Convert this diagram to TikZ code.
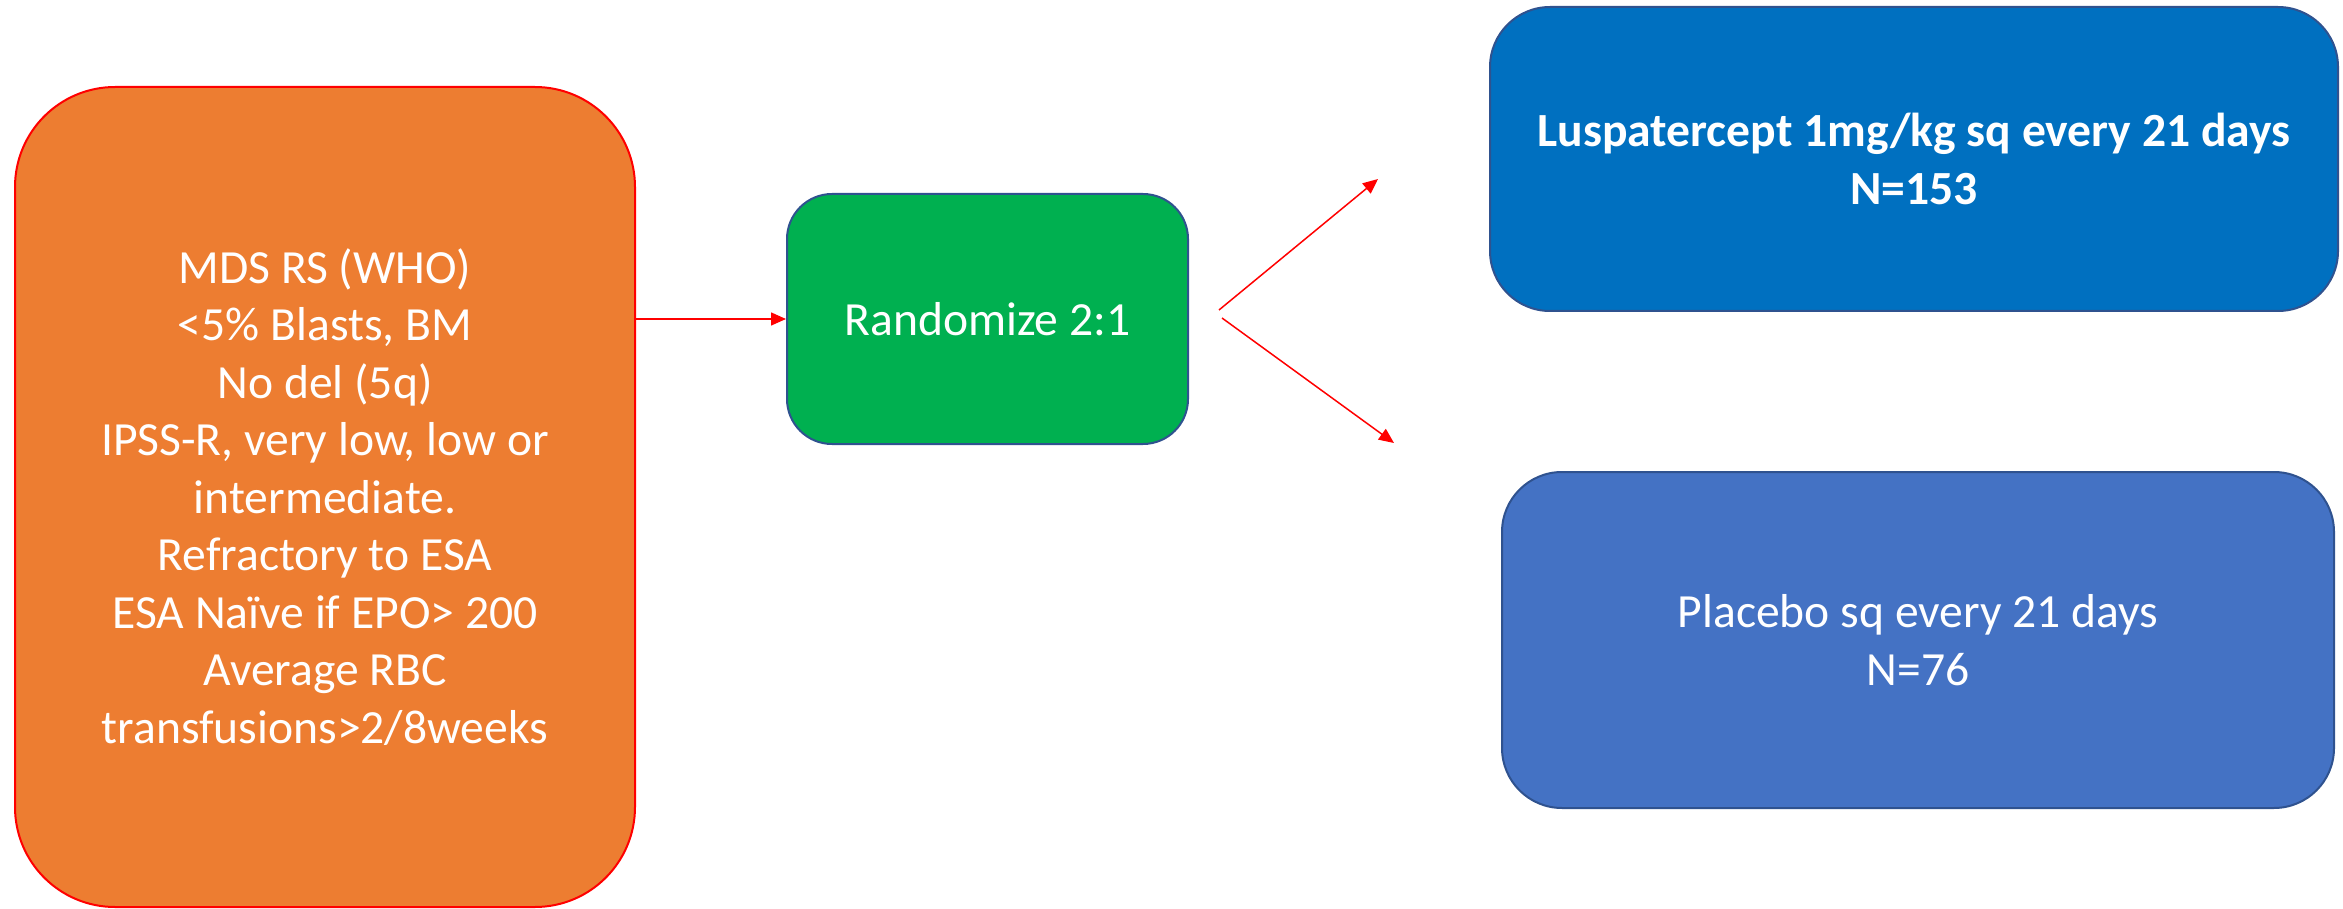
\documentclass[tikz,border=0pt]{standalone}
\usepackage{fontspec}
\setmainfont{Carlito}
\usetikzlibrary{arrows.meta}
\definecolor{orangefill}{HTML}{ED7D31}
\definecolor{greenfill}{HTML}{00B050}
\definecolor{bluefill}{HTML}{0070C0}
\definecolor{placebofill}{HTML}{4472C4}
\definecolor{boxborder}{HTML}{2F528F}
\definecolor{arrowred}{HTML}{FF0000}
\tikzset{
  box/.style={draw=boxborder, line width=2pt, text=white, align=center,
    inner sep=0pt, font=\fontsize{47.6}{57.5}\selectfont},
  redarrow/.style={draw=arrowred, line width=1.5pt, -{Triangle[length=15pt,width=13pt]}}
}
\begin{document}
\begin{tikzpicture}[x=1pt,y=-1pt]
\useasboundingbox (0,0) rectangle (2343,909);
\node[box, draw=arrowred, fill=orangefill, rounded corners=100pt,
  minimum width=620pt, minimum height=820pt] (elig) at (325,497)
  {MDS RS (WHO)\\<5\% Blasts, BM\\No del (5q)\\IPSS-R, very low, low or\\intermediate.\\Refractory to ESA\\ESA Naïve if EPO> 200\\Average RBC\\transfusions>2/8weeks};
\node[box, fill=greenfill, rounded corners=45pt,
  minimum width=401pt, minimum height=250pt] (rand) at (987.5,319) {Randomize 2:1};
\node[box, fill=bluefill, rounded corners=60pt,
  minimum width=848pt, minimum height=304pt] (lusp) at (1914,159)
  {\bfseries Luspatercept 1mg/kg sq every 21 days\\\bfseries N=153};
\node[box, fill=placebofill, rounded corners=60pt,
  minimum width=832pt, minimum height=336pt] (plac) at (1918,640)
  {Placebo sq every 21 days\\N=76};
\coordinate (s1) at (1219,310);
\coordinate (t1) at (1378,179);
\coordinate (s2) at (1222,318);
\coordinate (t2) at (1394,443);
\draw[redarrow] (rand.west -| elig.east) -- (rand.west);
\draw[redarrow] (s1) -- (t1);
\draw[redarrow] (s2) -- (t2);
\end{tikzpicture}
\end{document}
